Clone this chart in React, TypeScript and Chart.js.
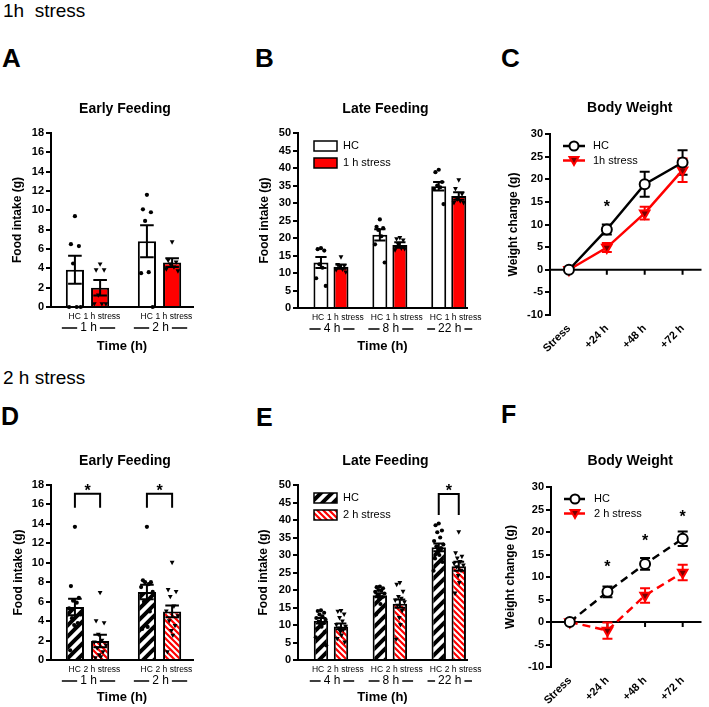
import React, { useEffect, useRef } from "react";
import { Chart, registerables } from "chart.js";
Chart.register(...registerables);

const FONT = "'Liberation Sans', Arial, Helvetica, sans-serif";
Chart.defaults.font.family = FONT;
Chart.defaults.color = "#000";
const RED = "#ff0000";

// ---------------- Categories / labels ----------------
const earlyTimes = ["1 h", "2 h"];
const lateTimes = ["4 h", "8 h", "22 h"];
const weightDays = ["Stress", "+24 h", "+48 h", "+72 h"];
const names1h = ["HC", "1 h stress"];
const names2h = ["HC", "2 h stress"];
const names1hShort = ["HC", "1h stress"];

// ---------------- A: Early feeding, 1 h stress ----------------
const aHcMean = [3.85, 6.8];
const aHcSem = [1.45, 1.65];
const aHcPts = [[9.4, 6.5, 6.3, 4.5, 0, 0, 0], [11.6, 10.1, 9.8, 8.9, 3.6, 3.5, 0]];
const aStMean = [2.0, 4.6];
const aStSem = [0.8, 0.45];
const aStPts = [[4.4, 3.8, 3.8, 1.2, 0.3, 0.3, 0.3], [6.7, 4.8, 4.6, 4.4, 4.1, 3.9, 3.7]];
const aBracket = [null, null];

// ---------------- B: Late feeding, 1 h stress ----------------
const bHcMean = [13.0, 20.9, 34.8];
const bHcSem = [1.6, 1.6, 1.2];
const bHcPts = [[17.1, 16.8, 16.4, 12.5, 11.5, 8.5, 6.3], [25.3, 23.2, 22.8, 22.3, 20.5, 18.2, 13.0], [39.5, 38.8, 36.0, 35.0, 34.5, 34.0, 29.7]];
const bStMean = [11.8, 18.0, 32.0];
const bStSem = [0.6, 0.8, 1.1];
const bStPts = [[14.5, 12.3, 12.0, 11.8, 11.0, 10.8, 10.2], [20.0, 19.7, 19.3, 18.0, 17.0, 16.5, 16.8], [36.5, 34.0, 32.5, 31.0, 30.5, 30.0, 30.0]];
const bBracket = [null, null, null];

// ---------------- C: Body weight, 1 h stress ----------------
const cHcMean = [0, 8.9, 18.9, 23.7];
const cHcSem = [0.3, 1.1, 2.75, 2.7];
const cStMean = [0, 4.9, 12.5, 22.0];
const cStSem = [0.2, 1.0, 1.4, 2.6];
const cSig = [null, 14.8, null, null];

// ---------------- D: Early feeding, 2 h stress ----------------
const dHcMean = [5.45, 7.0];
const dHcSem = [0.85, 0.75];
const dHcPts = [[13.7, 7.6, 6.4, 6.1, 5.9, 5.3, 4.7, 4.3, 3.8, 3.6, 3.4, 1.0], [13.7, 8.2, 8.0, 8.0, 7.8, 7.5, 7.0, 6.0, 5.0, 3.6, 3.4, 3.2]];
const dStMean = [1.95, 5.0];
const dStSem = [0.65, 0.6];
const dStPts = [[6.9, 4.0, 3.8, 2.6, 2.0, 1.8, 1.5, 1.2, 0.8, 0.5, 0.3, 0.2], [10.0, 7.2, 7.0, 6.5, 5.5, 5.0, 4.5, 4.0, 3.5, 3.0, 2.5, 0.8]];
const dBracket = [17.1, 17.1];

// ---------------- E: Late feeding, 2 h stress ----------------
const eHcMean = [11.2, 18.5, 32.2];
const eHcSem = [0.8, 0.6, 1.1];
const eHcPts = [[14.2, 14.0, 13.5, 13.0, 12.5, 12.0, 11.5, 11.0, 10.5, 10.0, 9.5, 9.0, 8.0, 6.5, 4.2], [21.0, 20.8, 20.5, 20.0, 19.8, 19.5, 19.0, 18.5, 18.0, 17.5, 16.0, 13.0], [39.0, 38.5, 37.0, 36.5, 35.0, 34.0, 33.0, 32.5, 32.0, 31.5, 30.0, 29.0, 28.0, 25.5]];
const eStMean = [9.6, 16.1, 26.8];
const eStSem = [0.8, 1.2, 1.3];
const eStPts = [[14.0, 13.8, 13.0, 12.0, 11.0, 10.0, 9.5, 9.0, 8.5, 8.0, 7.0, 6.0, 5.0], [22.0, 21.5, 19.5, 18.0, 17.5, 17.0, 16.5, 15.5, 14.0, 12.0, 10.0, 5.8], [36.5, 30.5, 29.5, 29.0, 28.0, 27.5, 27.0, 26.5, 25.5, 24.0, 22.0, 19.0]];
const eBracket = [null, null, 47.4];

// ---------------- F: Body weight, 2 h stress ----------------
const fHcMean = [0, 6.7, 12.9, 18.5];
const fHcSem = [0.3, 1.2, 1.3, 1.6];
const fStMean = [0, -1.9, 5.9, 11.0];
const fStSem = [0.2, 1.8, 1.6, 1.7];
const fSig = [null, 13.1, 18.9, 24.2];

// ---------------- helpers ----------------
function hatch(bg: string, fg: string, size: number, lw: number, dir: string) {
  const c = document.createElement("canvas");
  c.width = size; c.height = size;
  const x = c.getContext("2d")!;
  x.fillStyle = bg; x.fillRect(0, 0, size, size);
  x.strokeStyle = fg; x.lineWidth = lw;
  x.beginPath();
  if (dir === "/") {
    x.moveTo(-1, size + 1); x.lineTo(size + 1, -1);
    x.moveTo(-size / 2 - 1, size / 2 + 1); x.lineTo(size / 2 + 1, -size / 2 - 1);
    x.moveTo(size / 2 - 1, size * 1.5 + 1); x.lineTo(size * 1.5 + 1, size / 2 - 1);
  } else {
    x.moveTo(-1, -1); x.lineTo(size + 1, size + 1);
    x.moveTo(-size / 2 - 1, size / 2 - 1); x.lineTo(size / 2 + 1, size * 1.5 + 1);
    x.moveTo(size / 2 - 1, -size / 2 - 1); x.lineTo(size * 1.5 + 1, size / 2 + 1);
  }
  x.stroke();
  return x.createPattern(c, "repeat");
}

const JIT = [0, -0.55, 0.55, -0.25, 0.25, -0.8, 0.8, -0.4, 0.4, -0.1, 0.1, -0.65, 0.65, -0.9, 0.9];

function triDown(ctx: any, x: number, y: number, r: number) {
  ctx.beginPath();
  ctx.moveTo(x - r, y - r * 0.8);
  ctx.lineTo(x + r, y - r * 0.8);
  ctx.lineTo(x, y + r);
  ctx.closePath();
}

function barPlugin(p: any) {
  return {
    id: "barExtras",
    afterDatasetsDraw(chart: any) {
      const ctx = chart.ctx; const ys = chart.scales.y;
      const groups = [
        { mean: p.hcMean, sem: p.hcSem, pts: p.hcPts, tri: false },
        { mean: p.stMean, sem: p.stSem, pts: p.stPts, tri: true },
      ];
      ctx.save();
      groups.forEach((g, di) => {
        chart.getDatasetMeta(di).data.forEach((bar: any, i: number) => {
          const half = bar.width / 2;
          ctx.fillStyle = "#000";
          g.pts[i].forEach((v: number, k: number) => {
            const px = bar.x + JIT[k % JIT.length] * half * 0.8;
            const py = ys.getPixelForValue(v);
            if (g.tri) { triDown(ctx, px, py, 2.4); }
            else { ctx.beginPath(); ctx.arc(px, py, 2.1, 0, Math.PI * 2); }
            ctx.fill();
          });
          const t = ys.getPixelForValue(g.mean[i] + g.sem[i]);
          const b = ys.getPixelForValue(g.mean[i] - g.sem[i]);
          const cap = half * 0.75;
          ctx.strokeStyle = "#000"; ctx.lineWidth = 2;
          ctx.beginPath();
          ctx.moveTo(bar.x, t); ctx.lineTo(bar.x, b);
          ctx.moveTo(bar.x - cap, t); ctx.lineTo(bar.x + cap, t);
          ctx.moveTo(bar.x - cap, b); ctx.lineTo(bar.x + cap, b);
          ctx.stroke();
        });
      });
      ctx.restore();
    },
    afterDraw(chart: any) {
      const ctx = chart.ctx; const a = chart.chartArea; const ys = chart.scales.y;
      const m0 = chart.getDatasetMeta(0).data; const m1 = chart.getDatasetMeta(1).data;
      ctx.save();
      ctx.fillStyle = "#000"; ctx.strokeStyle = "#000";
      ctx.textAlign = "center"; ctx.textBaseline = "middle";
      ctx.font = `bold 14px ${FONT}`;
      ctx.fillText(p.title, (a.left + a.right) / 2 + 3, a.top - 24);
      p.cats.forEach((c: string, i: number) => {
        const h = m0[i]; const s = m1[i];
        const mid = (h.x + s.x) / 2;
        ctx.textBaseline = "middle"; ctx.textAlign = "left";
        ctx.font = `8.5px ${FONT}`;
        ctx.fillText(p.names[0], mid - 19, a.bottom + 10);
        ctx.fillText(p.names[1], mid - 4, a.bottom + 10);
        ctx.textAlign = "center";
        ctx.font = `12px ${FONT}`;
        const l = h.x - h.width / 2 - 4; const r = s.x + s.width / 2 + 6;
        const cx = (l + r) / 2;
        const w = ctx.measureText(c).width;
        const yl = a.bottom + 21;
        ctx.fillText(c, cx, yl);
        ctx.lineWidth = 1.6;
        ctx.beginPath();
        ctx.moveTo(l, yl); ctx.lineTo(cx - w / 2 - 3, yl);
        ctx.moveTo(cx + w / 2 + 3, yl); ctx.lineTo(r, yl);
        ctx.stroke();
        if (p.bracket[i] != null) {
          const yt = ys.getPixelForValue(p.bracket[i]);
          ctx.lineWidth = 2;
          ctx.beginPath();
          ctx.moveTo(h.x, yt + p.legLen); ctx.lineTo(h.x, yt); ctx.lineTo(s.x, yt); ctx.lineTo(s.x, yt + p.legLen);
          ctx.stroke();
          ctx.font = `bold 16px ${FONT}`; ctx.textBaseline = "alphabetic";
          ctx.fillText("*", (h.x + s.x) / 2, yt + 2);
        }
      });
      if (p.legend) {
        const lx = a.left + 16;
        [0, 1].forEach((k) => {
          const yy = a.top + 13 + k * 17;
          ctx.fillStyle = chart.data.datasets[k].backgroundColor;
          ctx.fillRect(lx, yy - 5, 23, 10);
          ctx.lineWidth = 1.5; ctx.strokeStyle = "#000";
          ctx.strokeRect(lx, yy - 5, 23, 10);
          ctx.fillStyle = "#000"; ctx.font = `11px ${FONT}`;
          ctx.textAlign = "left"; ctx.textBaseline = "middle";
          ctx.fillText(p.names[k], lx + 29, yy);
        });
      }
      ctx.restore();
    },
  };
}

function barConfig(p: any) {
  const hcFill = p.hatched ? hatch("#ffffff", "#000000", 11, 4, "/") : "#ffffff";
  const stFill = p.hatched ? hatch(RED, "#ffffff", 6, 2, "\\") : RED;
  const tickFont = { size: 11, weight: "bold" };
  return {
    type: "bar",
    data: {
      datasets: [
        { label: p.names[0], data: p.hcMean.map((v: number, i: number) => ({ x: i, y: v })), backgroundColor: hcFill, borderColor: "#000", borderWidth: 2, categoryPercentage: p.catPct, barPercentage: p.barPct },
        { label: p.names[1], data: p.stMean.map((v: number, i: number) => ({ x: i, y: v })), backgroundColor: stFill, borderColor: "#000", borderWidth: 2, categoryPercentage: p.catPct, barPercentage: p.barPct },
      ],
    },
    options: {
      responsive: false, animation: false,
      layout: { padding: { left: 0, top: p.padTop, right: p.padRight, bottom: 0 } },
      plugins: { legend: { display: false }, tooltip: { enabled: false }, title: { display: false } },
      scales: {
        x: {
          type: "linear", offset: false, min: p.xMin, max: p.xMax,
          afterBuildTicks: (s: any) => { s.ticks = p.cats.map((_: any, i: number) => ({ value: i })); },
          afterFit: (s: any) => { s.height = p.xHeight; },
          ticks: { display: false }, grid: { display: false },
          border: { display: true, color: "#000", width: 2 },
          title: { display: true, text: "Time (h)", color: "#000", font: { size: 13, weight: "bold" }, padding: { top: 0, bottom: p.xTitlePad } },
        },
        y: {
          min: 0, max: p.yMax,
          ticks: { stepSize: p.yStep, font: tickFont, padding: 2, color: "#000" },
          grid: { display: true, drawOnChartArea: false, drawTicks: true, tickLength: 5, color: "#000", lineWidth: 2 },
          border: { display: true, color: "#000", width: 2 },
          afterFit: (s: any) => { s.width = p.yWidth; },
          title: { display: true, text: "Food intake (g)", color: "#000", font: { size: 12, weight: "bold" }, padding: { top: p.yTitlePad, bottom: 0 } },
        },
      },
    },
    plugins: [barPlugin(p)],
  };
}

function linePlugin(p: any) {
  return {
    id: "lineExtras",
    beforeDatasetsDraw(chart: any) {
      const ctx = chart.ctx; const a = chart.chartArea; const ys = chart.scales.y; const xs = chart.scales.x;
      const y0 = ys.getPixelForValue(0);
      ctx.save();
      ctx.strokeStyle = "#000"; ctx.lineWidth = 2;
      ctx.beginPath();
      ctx.moveTo(a.left, y0); ctx.lineTo(a.right, y0);
      p.cats.forEach((_: any, i: number) => { const x = xs.getPixelForValue(i); ctx.moveTo(x, y0); ctx.lineTo(x, y0 + 5); });
      ctx.stroke();
      const sets: any[] = [[p.stMean, p.stSem, RED], [p.hcMean, p.hcSem, "#000"]];
      sets.forEach(([m, s, c]) => {
        ctx.strokeStyle = c; ctx.lineWidth = 2;
        ctx.beginPath();
        m.forEach((v: number, i: number) => {
          const x = xs.getPixelForValue(i);
          const t = ys.getPixelForValue(v + s[i]); const b = ys.getPixelForValue(v - s[i]);
          ctx.moveTo(x, t); ctx.lineTo(x, b);
          ctx.moveTo(x - 5, t); ctx.lineTo(x + 5, t);
          ctx.moveTo(x - 5, b); ctx.lineTo(x + 5, b);
        });
        ctx.stroke();
      });
      ctx.restore();
    },
    afterDraw(chart: any) {
      const ctx = chart.ctx; const a = chart.chartArea; const ys = chart.scales.y; const xs = chart.scales.x;
      ctx.save();
      ctx.fillStyle = "#000"; ctx.textAlign = "center"; ctx.textBaseline = "middle";
      ctx.font = `bold 14px ${FONT}`;
      ctx.fillText(p.title, (a.left + a.right) / 2 + 4, a.top - 26);
      ctx.font = `bold 16px ${FONT}`; ctx.textBaseline = "alphabetic";
      p.sig.forEach((v: number | null, i: number) => {
        if (v == null) return;
        ctx.fillText("*", xs.getPixelForValue(i), ys.getPixelForValue(v) + 9);
      });
      const x0 = a.left + 13; const x1 = a.left + 35; const xm = (x0 + x1) / 2;
      [0, 1].forEach((k) => {
        const yy = a.top + 12 + k * 14.5;
        const col = k === 0 ? "#000" : RED;
        ctx.strokeStyle = col; ctx.lineWidth = 2.5;
        ctx.setLineDash(p.dash);
        ctx.beginPath(); ctx.moveTo(x0, yy); ctx.lineTo(x1, yy); ctx.stroke();
        ctx.setLineDash([]);
        ctx.lineWidth = 2;
        if (k === 0) {
          ctx.beginPath(); ctx.arc(xm, yy, 4.5, 0, Math.PI * 2);
          ctx.fillStyle = "#fff"; ctx.fill(); ctx.strokeStyle = "#000"; ctx.stroke();
        } else {
          triDown(ctx, xm, yy, 4.5);
          ctx.fillStyle = "#7a0000"; ctx.fill(); ctx.strokeStyle = RED; ctx.stroke();
        }
        ctx.fillStyle = "#000"; ctx.font = `11px ${FONT}`;
        ctx.textAlign = "left"; ctx.textBaseline = "middle";
        ctx.fillText(p.names[k], a.left + 43, yy);
      });
      ctx.restore();
    },
  };
}

function lineConfig(p: any) {
  const tickFont = { size: 11, weight: "bold" };
  return {
    type: "line",
    data: {
      labels: p.cats,
      datasets: [
        { label: p.names[0], data: p.hcMean, borderColor: "#000", borderWidth: 2.5, borderDash: p.dash, pointStyle: "circle", pointRadius: 5, pointBorderWidth: 2, pointBackgroundColor: "#fff", pointBorderColor: "#000", fill: false, tension: 0 },
        { label: p.names[1], data: p.stMean, borderColor: RED, borderWidth: 2.5, borderDash: p.dash, pointStyle: "triangle", rotation: 180, pointRadius: 5.5, pointBorderWidth: 2, pointBackgroundColor: "#7a0000", pointBorderColor: RED, fill: false, tension: 0 },
      ],
    },
    options: {
      responsive: false, animation: false,
      layout: { padding: { left: 0, top: p.padTop, right: p.padRight, bottom: 0 } },
      plugins: { legend: { display: false }, tooltip: { enabled: false }, title: { display: false } },
      scales: {
        x: {
          type: "category", offset: true,
          grid: { display: false, drawTicks: true, tickLength: 5 },
          border: { display: false },
          ticks: { minRotation: 45, maxRotation: 45, autoSkip: false, font: tickFont, padding: 2, color: "#000" },
          afterFit: (s: any) => { s.height = p.xHeight; },
        },
        y: {
          min: -10, max: 30,
          ticks: { stepSize: 5, font: tickFont, padding: 2, color: "#000" },
          grid: { display: true, drawOnChartArea: false, drawTicks: true, tickLength: 5, color: "#000", lineWidth: 2 },
          border: { display: true, color: "#000", width: 2 },
          afterFit: (s: any) => { s.width = p.yWidth; },
          title: { display: true, text: "Weight change (g)", color: "#000", font: { size: 12, weight: "bold" }, padding: { top: p.yTitlePad, bottom: 0 } },
        },
      },
    },
    plugins: [linePlugin(p)],
  };
}

// ---------------- panel definitions ----------------
const panelA = { title: "Early Feeding", cats: earlyTimes, names: names1h, hcMean: aHcMean, hcSem: aHcSem, hcPts: aHcPts, stMean: aStMean, stSem: aStSem, stPts: aStPts, bracket: aBracket, legLen: 14, yMax: 18, yStep: 2, xMin: -0.507, xMax: 1.465, catPct: 0.7, barPct: 0.72, yWidth: 51, xHeight: 53, padTop: 43, padRight: 47, yTitlePad: 10, xTitlePad: 6, hatched: false, legend: false };
const panelB = { title: "Late Feeding", cats: lateTimes, names: names1h, hcMean: bHcMean, hcSem: bHcSem, hcPts: bHcPts, stMean: bStMean, stSem: bStSem, stPts: bStPts, bracket: bBracket, legLen: 20, yMax: 50, yStep: 5, xMin: -0.56, xMax: 2.31, catPct: 0.68, barPct: 0.75, yWidth: 78, xHeight: 52, padTop: 43, padRight: 23, yTitlePad: 37, xTitlePad: 6, hatched: false, legend: true };
const panelC = { title: "Body Weight", cats: weightDays, names: names1hShort, hcMean: cHcMean, hcSem: cHcSem, stMean: cStMean, stSem: cStSem, sig: cSig, dash: [], yWidth: 70, xHeight: 45, padTop: 44, padRight: 2, yTitlePad: 26 };
const panelD = { title: "Early Feeding", cats: earlyTimes, names: names2h, hcMean: dHcMean, hcSem: dHcSem, hcPts: dHcPts, stMean: dStMean, stSem: dStSem, stPts: dStPts, bracket: dBracket, legLen: 14, yMax: 18, yStep: 2, xMin: -0.507, xMax: 1.465, catPct: 0.7, barPct: 0.72, yWidth: 51, xHeight: 47, padTop: 45, padRight: 47, yTitlePad: 11, xTitlePad: 2, hatched: true, legend: false };
const panelE = { title: "Late Feeding", cats: lateTimes, names: names2h, hcMean: eHcMean, hcSem: eHcSem, hcPts: eHcPts, stMean: eStMean, stSem: eStSem, stPts: eStPts, bracket: eBracket, legLen: 21, yMax: 50, yStep: 5, xMin: -0.56, xMax: 2.31, catPct: 0.68, barPct: 0.72, yWidth: 78, xHeight: 47, padTop: 45, padRight: 23, yTitlePad: 36, xTitlePad: 2, hatched: true, legend: true };
const panelF = { title: "Body Weight", cats: weightDays, names: names2h, hcMean: fHcMean, hcSem: fHcSem, stMean: fStMean, stSem: fStSem, sig: fSig, dash: [8, 5], yWidth: 71, xHeight: 40, padTop: 47, padRight: 2, yTitlePad: 23 };

function ChartBox({ left, top, width, height, make }: any) {
  const ref = useRef<HTMLCanvasElement>(null);
  useEffect(() => {
    const chart = new Chart(ref.current as any, make() as any);
    return () => chart.destroy();
  }, []);
  return <canvas ref={ref} width={width} height={height} style={{ position: "absolute", left, top, width, height }} />;
}

function Label({ text, left, top, size, bold }: any) {
  return (
    <div style={{ position: "absolute", left, top, fontFamily: FONT, fontSize: size, fontWeight: bold ? "bold" : "normal", lineHeight: 1, color: "#000", whiteSpace: "pre" }}>{text}</div>
  );
}

export default function App() {
  return (
    <div style={{ position: "absolute", left: 0, top: 0, width: 709, height: 707, background: "#fff", overflow: "hidden" }}>
      <Label text={"1h  stress"} left={3} top={1} size={19} />
      <Label text="2 h stress" left={3} top={368} size={19} />
      <Label text="A" left={2} top={45} size={26} bold />
      <Label text="B" left={255} top={45} size={26} bold />
      <Label text="C" left={501} top={45} size={26} bold />
      <Label text="D" left={1} top={404} size={25} bold />
      <Label text="E" left={256} top={405} size={25} bold />
      <Label text="F" left={501} top={402} size={25} bold />
      <ChartBox left={0} top={90} width={240} height={270} make={() => barConfig(panelA)} />
      <ChartBox left={480} top={90} width={229} height={270} make={() => lineConfig(panelC)} />
      <ChartBox left={220} top={90} width={270} height={270} make={() => barConfig(panelB)} />
      <ChartBox left={0} top={440} width={240} height={267} make={() => barConfig(panelD)} />
      <ChartBox left={480} top={440} width={229} height={267} make={() => lineConfig(panelF)} />
      <ChartBox left={220} top={440} width={270} height={267} make={() => barConfig(panelE)} />
    </div>
  );
}
